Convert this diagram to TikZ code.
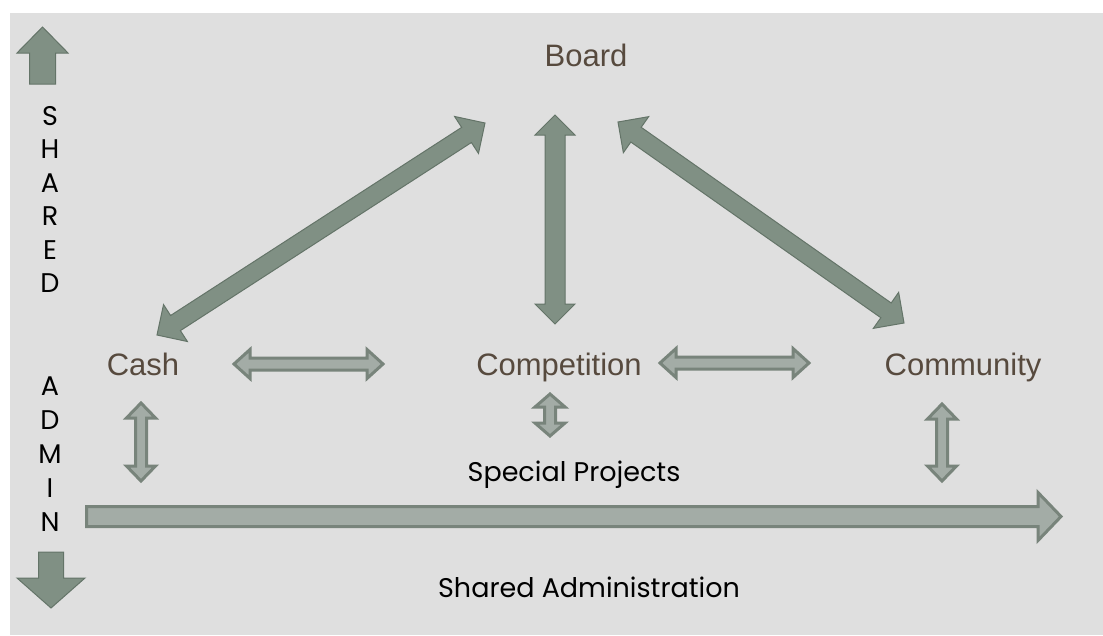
\documentclass[tikz,border=0pt]{standalone}
\usepackage{fontspec}
\setmainfont{Liberation Sans}
\newfontfamily\gothic{Poppins}
\usetikzlibrary{calc}

\definecolor{slidegray}{RGB}{223,223,223}
\definecolor{boxtext}{RGB}{87,74,62}
\definecolor{darkfill}{RGB}{128,144,132}
\definecolor{darkedge}{RGB}{100,116,104}
\definecolor{lightfill}{RGB}{163,172,166}
\definecolor{lightedge}{RGB}{120,132,123}

\tikzset{
  % block arrow with a head at each end: shaft half width, head half width, head length
  twoway/.style n args={3}{to path={
    (\tikztostart)
    -- ($(\tikztostart)!#3!(\tikztotarget)!#2!90:(\tikztotarget)$)
    -- ($(\tikztostart)!#3!(\tikztotarget)!#1!90:(\tikztotarget)$)
    -- ($(\tikztotarget)!#3!(\tikztostart)!#1!-90:(\tikztostart)$)
    -- ($(\tikztotarget)!#3!(\tikztostart)!#2!-90:(\tikztostart)$)
    -- (\tikztotarget)
    -- ($(\tikztotarget)!#3!(\tikztostart)!#2!90:(\tikztostart)$)
    -- ($(\tikztotarget)!#3!(\tikztostart)!#1!90:(\tikztostart)$)
    -- ($(\tikztostart)!#3!(\tikztotarget)!#1!-90:(\tikztotarget)$)
    -- ($(\tikztostart)!#3!(\tikztotarget)!#2!-90:(\tikztotarget)$)
    -- cycle}},
  % block arrow with one head, at the target
  oneway/.style n args={3}{to path={
    ($(\tikztostart)!#1!90:(\tikztotarget)$)
    -- ($(\tikztotarget)!#3!(\tikztostart)!#1!-90:(\tikztostart)$)
    -- ($(\tikztotarget)!#3!(\tikztostart)!#2!-90:(\tikztostart)$)
    -- (\tikztotarget)
    -- ($(\tikztotarget)!#3!(\tikztostart)!#2!90:(\tikztostart)$)
    -- ($(\tikztotarget)!#3!(\tikztostart)!#1!90:(\tikztostart)$)
    -- ($(\tikztostart)!#1!-90:(\tikztotarget)$)
    -- cycle}},
  darkarrow/.style={fill=darkfill, draw=darkedge, line width=1pt, line join=miter},
  lightarrow/.style={fill=lightfill, draw=lightedge, line width=3pt, line join=miter},
  unit/.style={text=boxtext, inner sep=0pt, anchor=base, font=\fontsize{31}{31}\selectfont},
  note/.style={text=black, inner sep=0pt, anchor=base, font=\gothic\fontsize{27}{27}\selectfont},
}

\begin{document}
\begin{tikzpicture}[x=1pt, y=-1pt]
  \useasboundingbox (0,0) rectangle (1103,635);
  \fill[white] (0,0) rectangle (1103,635);
  \fill[slidegray] (10,13) rectangle (1103,635);

  % the four parts
  \node[unit] (board) at (586,66) {Board};
  \node[unit] (cash) at (143,375) {Cash};
  \node[unit] (competition) at (559,375) {Competition};
  \node[unit] (community) at (963,375) {Community};

  \node[note] (special) at (574,481) {Special Projects};
  \node[note] (shared) at (589,597) {Shared Administration};

  % letters down the left side
  \foreach \ltr [count=\i] in {S,H,A,R,E,D}
    \node[note] (s\i) at (50,{125+33.5*(\i-1)}) {\ltr};
  \foreach \ltr [count=\i] in {A,D,M,I,N}
    \node[note] (a\i) at (50,{395+34*(\i-1)}) {\ltr};

  % ends of the arrows
  \coordinate (cashup) at (157,335);
  \coordinate (boardleft) at (485,123);
  \coordinate (boardright) at (618,122);
  \coordinate (commup) at (904,323);
  \coordinate (boardtop) at (555,115);
  \coordinate (compup) at (555,324);

  \coordinate (cashright) at (234,364);
  \coordinate (compleft) at (383,364);
  \coordinate (compright) at (660,363);
  \coordinate (commleft) at (809,363);

  \coordinate (cashtop) at (141,403);
  \coordinate (cashbot) at (141,481);
  \coordinate (comptop) at (550,394);
  \coordinate (compbot) at (550,436);
  \coordinate (commtop) at (942,404);
  \coordinate (commbot) at (942,481);

  \coordinate (admintail) at (86.5,516.5);
  \coordinate (adminhead) at (1061,516.5);

  \coordinate (uptail) at (42.5,84);
  \coordinate (uphead) at (42.5,27);
  \coordinate (downtail) at (51,552);
  \coordinate (downhead) at (51,608);

  \draw[darkarrow] (cashup) to[twoway={9pt}{22pt}{22pt}] (boardleft);
  \draw[darkarrow] (boardright) to[twoway={9pt}{22pt}{22pt}] (commup);
  \draw[darkarrow] (boardtop) to[twoway={10pt}{20pt}{20pt}] (compup);

  \draw[lightarrow] (cashright) to[twoway={6pt}{14.5pt}{16pt}] (compleft);
  \draw[lightarrow] (compright) to[twoway={6pt}{14.5pt}{16pt}] (commleft);
  \draw[lightarrow] (cashtop) to[twoway={5.5pt}{14.5pt}{15pt}] (cashbot);
  \draw[lightarrow] (comptop) to[twoway={5.5pt}{15pt}{13pt}] (compbot);
  \draw[lightarrow] (commtop) to[twoway={5.5pt}{14.5pt}{15pt}] (commbot);

  \draw[lightarrow] (admintail) to[oneway={10pt}{24pt}{23pt}] (adminhead);

  \draw[darkarrow] (uptail) to[oneway={13pt}{25.5pt}{26pt}] (uphead);
  \draw[darkarrow] (downtail) to[oneway={12.5pt}{34pt}{30pt}] (downhead);
\end{tikzpicture}
\end{document}
